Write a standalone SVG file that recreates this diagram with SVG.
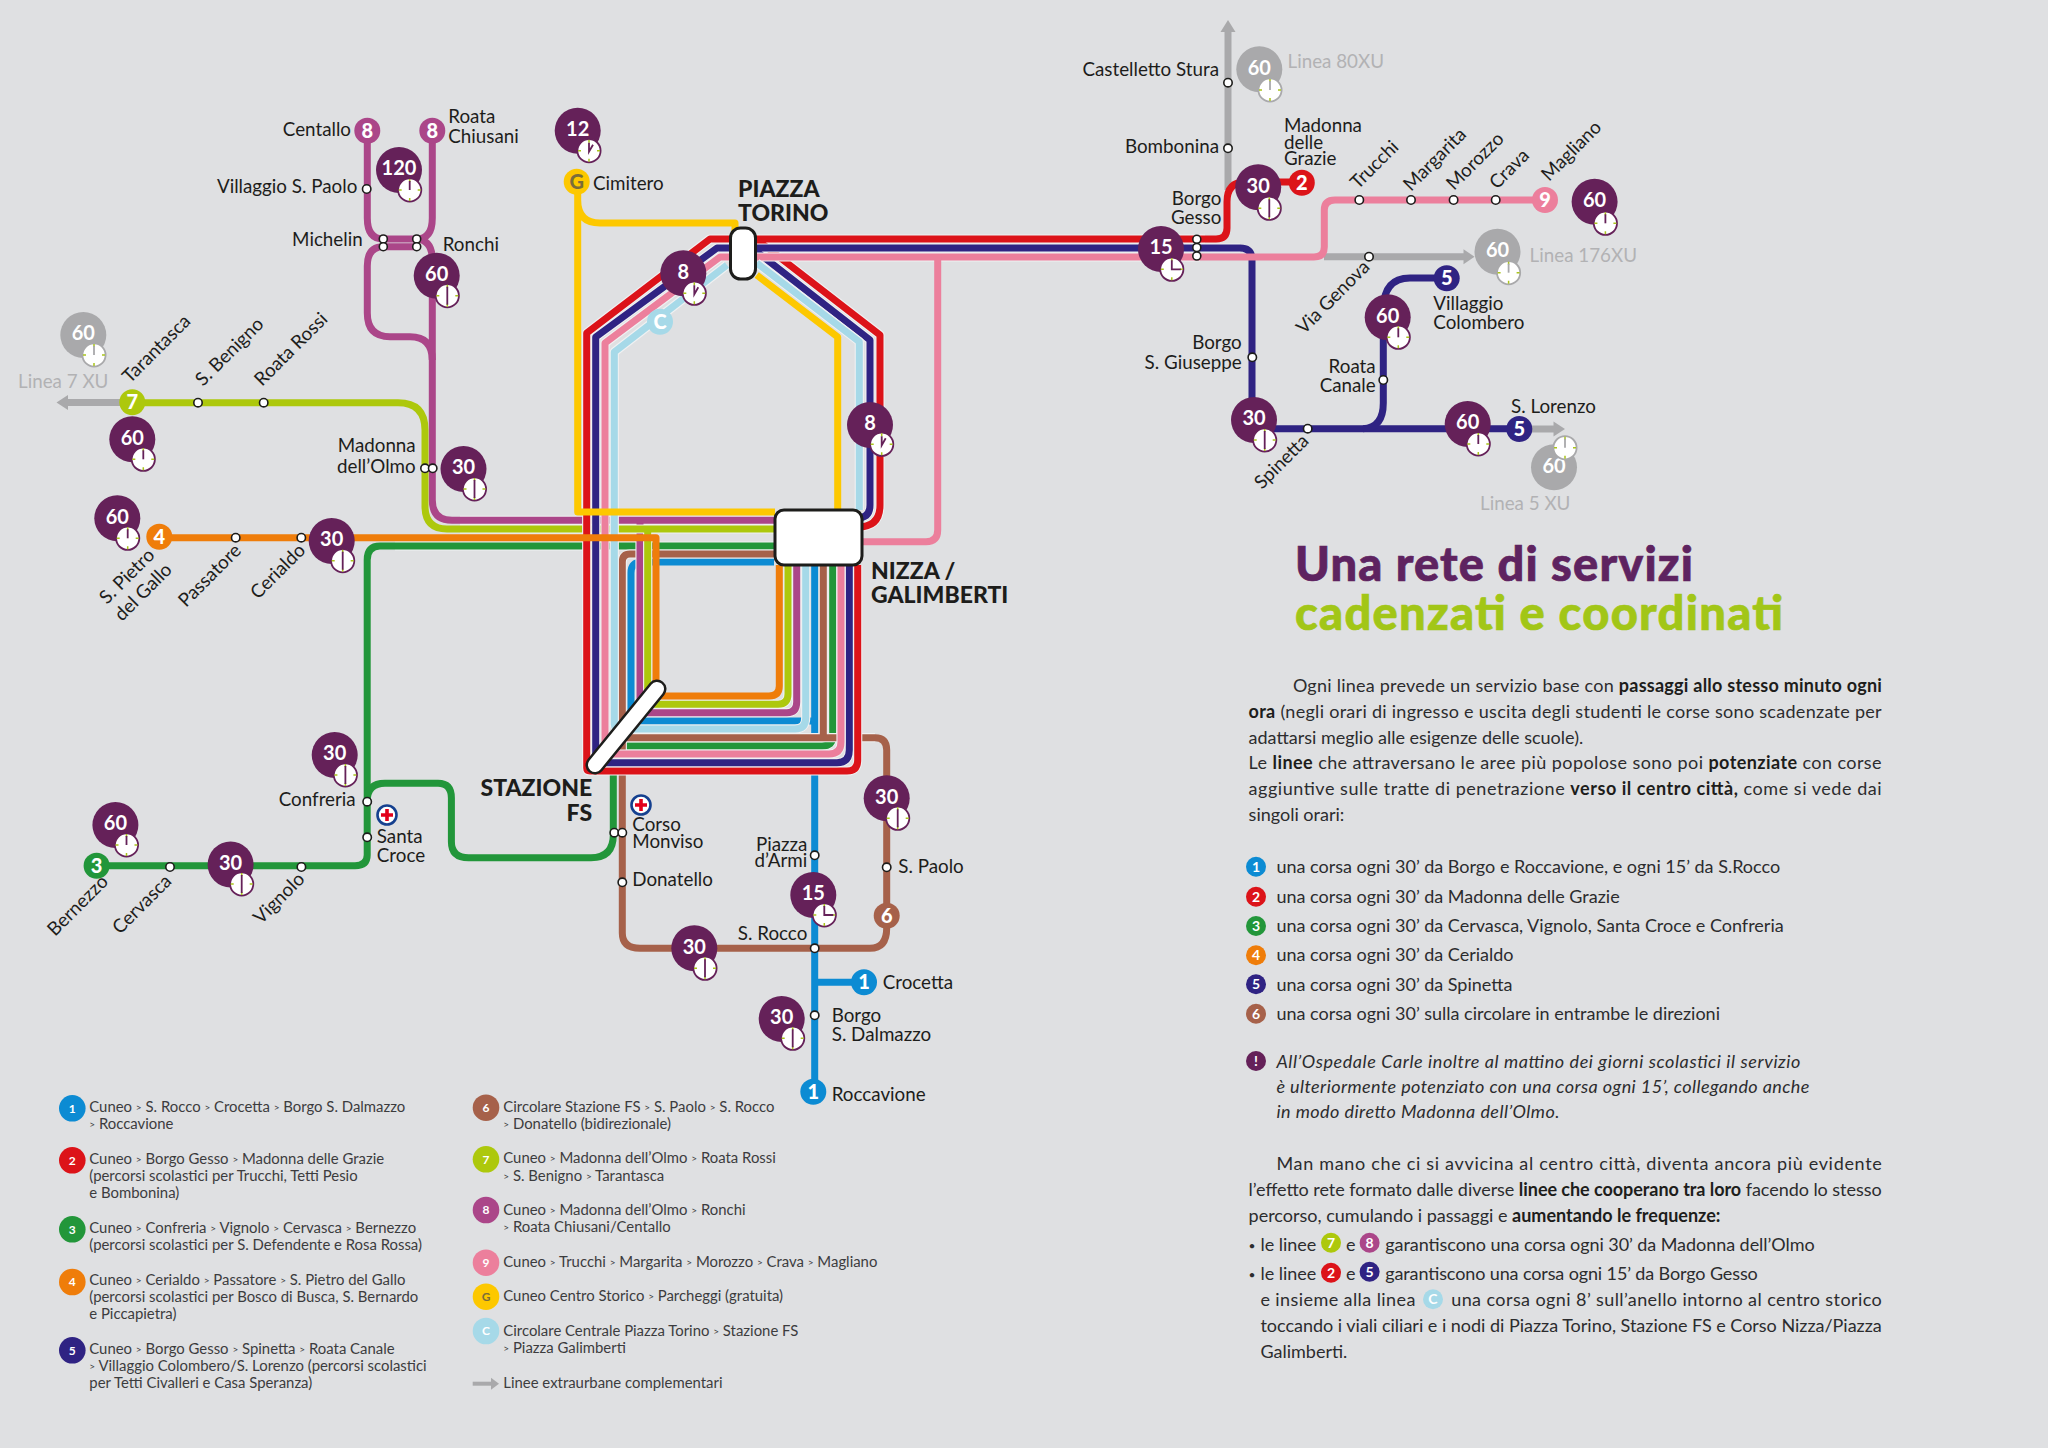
<svg xmlns="http://www.w3.org/2000/svg" width="2048" height="1448" viewBox="0 0 2048 1448">
<style>
text{font-family:"Lato","Liberation Sans",sans-serif}
.ln{fill:none;stroke-width:7;stroke-linejoin:round}
.cs{fill:none;stroke:#f0f1f2;stroke-width:9.2;stroke-linejoin:round}
.red{stroke:#dc1319}.nav{stroke:#2f2383}.pnk{stroke:#ec7f9c}.lbl{stroke:#a6d9e8}.yel{stroke:#fdc800}.lim{stroke:#adc80c}.org{stroke:#ef7d0a}.grn{stroke:#22963a}.brn{stroke:#a6614a}.blu{stroke:#0c8bd3}.mag{stroke:#ab4689}.gry{stroke:#a9a9ab}
.l{font-size:18.8px;fill:#1d1d1b}
.lg{font-size:18.8px;fill:#b2b2b4}
.e{text-anchor:end}
.st{font-size:23px;font-weight:900;fill:#1d1d1b}
.bg{fill:#652159}.bgg{fill:#a9a9ab}
.bn{font-size:20px;font-weight:700;fill:#fff;text-anchor:middle}
.nt{font-size:20px;font-weight:900;fill:#fff;text-anchor:middle}
.ck{color:#652159}.ckg{color:#a9a9ab}
.cf{fill:#fff;stroke:currentColor;stroke-width:1.8}
.tk{stroke:#a9c31c;stroke-width:1.5;fill:none}
.hd{stroke:currentColor;stroke-width:1.8;fill:none}
.s{fill:#fff;stroke:#1d1d1b;stroke-width:1.6}
.stn{fill:#fff;stroke:#1d1d1b;stroke-width:3}
.t{font-size:14.9px;fill:#3c3c3e}
.g{font-size:10px;baseline-shift:1.5px}
.tn{font-size:12px;font-weight:700;fill:#fff;text-anchor:middle}
.bd{font-size:18px;fill:#2c2c2e}
.bu{font-size:12px;fill:#2c2c2e}
.b{font-weight:700;fill:#1d1d1b}
.i{font-style:italic}
.dn{font-size:14px;font-weight:700;fill:#fff;text-anchor:middle}
.ti{font-size:47px;font-weight:900;stroke-width:.7}
</style>
<defs>
<g id="cb"><circle class="cf" r="11.6"/><path class="tk" d="M0,-11V-8M0,11V8M-11,0H-8M11,0H8"/></g>
<g id="c60"><use href="#cb"/><path class="hd" d="M0,0V-9"/></g>
<g id="c30"><use href="#cb"/><path class="hd" d="M0,-9V9"/></g>
<g id="c15"><use href="#cb"/><path class="hd" d="M0,-9V0H9"/></g>
<g id="c8"><use href="#cb"/><path class="hd" d="M0,-8V1L4,-6"/></g>
<g id="hs"><circle r="9.5" fill="#fff" stroke="#15408f" stroke-width="2.6"/><path d="M0,-6V6M-6,0H6" stroke="#e2001a" stroke-width="3.6"/></g>
</defs>
<rect width="2048" height="1448" fill="#dfe0e2"/>

<g id="connectors">
<path class="ln gry" d="M1228,190V28"/><path d="M1228,20l7.5,12h-15z" fill="#a9a9ab"/>
<path class="ln gry" d="M1324,256.7H1464"/><path d="M1474.5,256.7l-11,-7.5v15z" fill="#a9a9ab"/>
<path class="ln gry" d="M1519,429H1556"/><path d="M1565,429l-11.5,-7.5v15z" fill="#a9a9ab"/>
<path class="ln gry" d="M132,402.5H66"/><path d="M56.5,402.5l11.5,-7.5v15z" fill="#a9a9ab"/>

<path class="ln blu" d="M774,562H642Q631,562 631,573V721H814.7"/>
<path class="ln blu" d="M814.7,565V1091M814.7,982.3H864"/>
<path class="cs" d="M774,546H395M832.7,565V736Q832.7,746 822,746H620"/>
<path class="ln grn" d="M774,546H380Q367.2,546 367.2,560V855Q367.2,865.7 355,865.7H96.6"/>
<path class="ln grn" d="M832.7,565V736Q832.7,746 822,746H620Q613.3,746 613.3,752V835Q613.3,857.7 591,857.7H468.6Q451.4,857.7 451.4,841.7V798Q451.4,783.3 438,783.3H385Q367.2,783.3 367.2,801"/>
<path class="cs" d="M774,554H630Q622.3,554 622.3,562V770M823.3,565V737.7M622.3,737.7H875"/>
<path class="ln brn" d="M774,554H630Q622.3,554 622.3,562V933Q622.3,948.3 640,948.3H870Q886.7,948.3 886.7,928V750Q886.7,737.7 875,737.7H622.3M823.3,565V737.7"/>
<path class="cs" d="M774,520.3H460M640,520.3V712.7H787Q796.7,712.7 796.7,702V565"/>
<path class="ln mag" d="M432.3,130V218Q432.3,239 416.7,239H383.3Q367.3,239 367.3,218V130"/>
<path class="ln mag" d="M416.7,239Q432.3,240 432.3,260V500Q432.3,520.3 452,520.3H774"/>
<path class="ln mag" d="M416.7,246.7H383.3Q367.3,246.7 367.3,266V313Q367.3,336.7 390,336.7H410Q432.3,336.7 432.3,360"/>
<path class="ln mag" d="M640,520.3V712.7H787Q796.7,712.7 796.7,702V565"/>
<path class="cs" d="M774,529H460M647.7,529V704.3H778Q788,704.3 788,694V565"/>
<path class="ln lim" d="M132,402.7H398Q425,402.7 425,430V506Q425,529 447,529H774"/>
<path class="ln lim" d="M647.7,529V704.3H778Q788,704.3 788,694V565"/>
<path class="cs" d="M857.7,565V760Q857.7,771 847,771H590Q586.7,771 586.7,768V333L710,239H1205M756,239L880,335V505Q880,527 858,527"/>
<path class="ln red" d="M857.7,565V760Q857.7,771 847,771H590Q586.7,771 586.7,768V333L710,239H1216Q1227,239 1227,228V202Q1227,182 1245,182H1301"/>
<path class="ln red" d="M756,239L880,335V505Q880,527 858,527"/>
<path class="cs" d="M849.3,565V750Q849.3,762.7 837,762.7H602Q595.7,762.7 595.7,756V337L717,248H1240M756.7,251.7L870,340V505Q870,518 857,518"/>
<path class="ln nav" d="M849.3,565V750Q849.3,762.7 837,762.7H602Q595.7,762.7 595.7,756V337L717,248H1240Q1252,248 1252,260V415Q1252,428.7 1266,428.7H1519"/>
<path class="ln nav" d="M1363,428.7Q1383.3,428 1383.3,403V310Q1383.3,278 1410,278H1446"/>
<path class="ln nav" d="M756.7,251.7L870,340V505Q870,518 857,518"/>
<path class="cs" d="M841,565V742Q841,754 829,754H612Q605,754 605,748V343L720,257H1200"/>
<path class="ln pnk" d="M841,565V742Q841,754 829,754H612Q605,754 605,748V343L720,257H1314Q1324.3,257 1324.3,247V210Q1324.3,200 1335,200H1545"/>
<path class="ln pnk" d="M937.7,257V530Q937.7,541.7 926,541.7H860"/>
<path class="cs" d="M805.7,565V718Q805.7,729 795,729H620Q614.3,729 614.3,724V352L727,265M756.7,263L859.3,341.7V510"/>
<path class="ln lbl" d="M805.7,565V718Q805.7,729 795,729H620Q614.3,729 614.3,724V352L727,265"/>
<path class="ln lbl" d="M756.7,263L859.3,341.7V510"/>
<path class="ln org" d="M159,537.7H656V696H769Q779.3,696 779.3,686V565"/>
<path class="ln yel" d="M577.7,183V512H775M577.7,200Q577.7,223 600,223H735V232"/>
<path class="ln yel" d="M756.7,275L837.7,337V510"/>
</g>

<g id="piazza-torino"><rect class="stn" x="730.5" y="228" width="25" height="51" rx="10"/><text class="st" x="738" y="196.7">PIAZZA</text><text class="st" x="738" y="221">TORINO</text></g>
<g id="nizza-galimberti"><rect class="stn" x="775" y="510" width="87" height="55" rx="9"/><text class="st" x="871" y="578.7">NIZZA /</text><text class="st" x="871" y="603.3">GALIMBERTI</text></g>
<g id="stazione-fs"><line x1="595" y1="765" x2="657" y2="689" stroke="#1d1d1b" stroke-width="19" stroke-linecap="round"/><line x1="595" y1="765" x2="657" y2="689" stroke="#fff" stroke-width="14" stroke-linecap="round"/><text class="st e" x="592.2" y="796">STAZIONE</text><text class="st e" x="592.2" y="820.7">FS</text></g>

<g id="n-centallo"><circle cx="367.3" cy="130.7" r="13" fill="#ab4689"/><text class="nt" x="367.3" y="137.7">8</text><text class="l e" x="351" y="135.7">Centallo</text></g>
<g id="n-roata-chiusani"><circle cx="432.3" cy="130.7" r="13" fill="#ab4689"/><text class="nt" x="432.3" y="137.7">8</text><text class="l" x="448.3" y="123.3">Roata</text><text class="l" x="448.3" y="143.3">Chiusani</text></g>
<g id="n-villaggio-s-paolo"><circle class="s" cx="366.7" cy="189" r="4.2"/><text class="l e" x="357.3" y="192.7">Villaggio S. Paolo</text></g>
<g id="n-michelin"><circle class="s" cx="383.3" cy="239" r="4"/><circle class="s" cx="383.3" cy="246.7" r="4"/><text class="l e" x="362.7" y="245.7">Michelin</text></g>
<g id="n-ronchi"><circle class="s" cx="416.7" cy="239" r="4"/><circle class="s" cx="416.7" cy="246.7" r="4"/><text class="l" x="442.7" y="250.7">Ronchi</text></g>
<g id="n-cimitero"><circle cx="576.7" cy="181.7" r="13" fill="#fdc800"/><text class="nt" x="576.7" y="188.7" style="fill:#7a6d3a">G</text><text class="l" x="593" y="190">Cimitero</text></g>
<g id="n-c"><circle cx="660" cy="321.7" r="13" fill="#a6d9e8"/><text class="nt" x="660" y="328.7">C</text></g>

<g id="n-tarantasca"><circle cx="132.3" cy="402.3" r="13" fill="#adc80c"/><text class="nt" x="132.3" y="409.3">7</text><text class="l" transform="translate(130,384) rotate(-45)">Tarantasca</text></g>
<g id="n-s-benigno"><circle class="s" cx="198" cy="402.7" r="4.2"/><text class="l" transform="translate(203,387) rotate(-45)">S. Benigno</text></g>
<g id="n-roata-rossi"><circle class="s" cx="263.7" cy="402.7" r="4.2"/><text class="l" transform="translate(262,387) rotate(-45)">Roata Rossi</text></g>
<g id="n-madonna-olmo"><circle class="s" cx="425" cy="468.3" r="4.2"/><circle class="s" cx="432.7" cy="468.3" r="4.2"/><text class="l e" x="415.7" y="452.3">Madonna</text><text class="l e" x="415.7" y="472.7">dell’Olmo</text></g>
<g id="n-s-pietro"><circle cx="159.3" cy="536.7" r="13" fill="#ef7d0a"/><text class="nt" x="159.3" y="543.7">4</text><text class="l" transform="translate(107,605) rotate(-45)">S. Pietro</text><text class="l" transform="translate(122,622) rotate(-45)">del Gallo</text></g>
<g id="n-passatore"><circle class="s" cx="235.7" cy="537.7" r="4.2"/><text class="l" transform="translate(186,608) rotate(-45)">Passatore</text></g>
<g id="n-cerialdo"><circle class="s" cx="301.3" cy="537.7" r="4.2"/><text class="l" transform="translate(258,600) rotate(-45)">Cerialdo</text></g>
<g id="n-bernezzo"><circle cx="96.6" cy="865.7" r="13" fill="#22963a"/><text class="nt" x="96.6" y="872.7">3</text><text class="l" transform="translate(55,937) rotate(-45)">Bernezzo</text></g>
<g id="n-cervasca"><circle class="s" cx="170" cy="867" r="4.2"/><text class="l" transform="translate(120,935) rotate(-45)">Cervasca</text></g>
<g id="n-vignolo"><circle class="s" cx="301.4" cy="867" r="4.2"/><text class="l" transform="translate(261,925) rotate(-45)">Vignolo</text></g>
<g id="n-confreria"><circle class="s" cx="367.2" cy="801.7" r="4.2"/><text class="l e" x="355.7" y="806">Confreria</text></g>
<g id="n-santa-croce"><circle class="s" cx="367.2" cy="837.3" r="4.2"/><use href="#hs" transform="translate(387,815)"/><text class="l" x="376.8" y="843.3">Santa</text><text class="l" x="376.8" y="862.3">Croce</text></g>
<g id="n-corso-monviso"><circle class="s" cx="614.3" cy="832.7" r="4.2"/><circle class="s" cx="622.3" cy="832.7" r="4.2"/><use href="#hs" transform="translate(641,805)"/><text class="l" x="632.3" y="831">Corso</text><text class="l" x="632.3" y="847.7">Monviso</text></g>
<g id="n-donatello"><circle class="s" cx="622.3" cy="882.3" r="4.2"/><text class="l" x="632.3" y="886">Donatello</text></g>
<g id="n-piazza-armi"><circle class="s" cx="814.7" cy="855.3" r="4.2"/><text class="l e" x="807.3" y="850.7">Piazza</text><text class="l e" x="807.3" y="867.3">d’Armi</text></g>
<g id="n-s-rocco"><circle class="s" cx="814.7" cy="948.3" r="4.2"/><text class="l e" x="807.3" y="940">S. Rocco</text></g>
<g id="n-s-paolo"><circle class="s" cx="886.7" cy="867.3" r="4.2"/><text class="l" x="898.3" y="873.3">S. Paolo</text></g>
<g id="n-6"><circle cx="886.7" cy="915.7" r="13" fill="#a6614a"/><text class="nt" x="886.7" y="922.7">6</text></g>
<g id="n-crocetta"><circle cx="864" cy="982.3" r="13" fill="#0c8bd3"/><text class="nt" x="864" y="989.3">1</text><text class="l" x="882.7" y="988.5">Crocetta</text></g>
<g id="n-borgo-dalmazzo"><circle class="s" cx="814.7" cy="1015.3" r="4.2"/><text class="l" x="831.7" y="1021.5">Borgo</text><text class="l" x="831.7" y="1040.8">S. Dalmazzo</text></g>
<g id="n-roccavione"><circle cx="813.3" cy="1091.7" r="13" fill="#0c8bd3"/><text class="nt" x="813.3" y="1098.7">1</text><text class="l" x="831.7" y="1100.5">Roccavione</text></g>

<g id="n-castelletto"><circle class="s" cx="1228" cy="82.7" r="4.2"/><text class="l e" x="1219" y="75.7">Castelletto Stura</text></g>
<g id="n-bombonina"><circle class="s" cx="1228" cy="148.3" r="4.2"/><text class="l e" x="1219" y="153">Bombonina</text></g>
<g id="n-grazie"><circle cx="1301.8" cy="182.7" r="13" fill="#dc1319"/><text class="nt" x="1301.8" y="189.7">2</text><text class="l" x="1284" y="132">Madonna</text><text class="l" x="1284" y="148.5">delle</text><text class="l" x="1284" y="165">Grazie</text></g>
<g id="n-borgo-gesso"><circle class="s" cx="1196.8" cy="239.3" r="4"/><circle class="s" cx="1196.8" cy="247.5" r="4"/><circle class="s" cx="1196.8" cy="256" r="4"/><text class="l e" x="1221.4" y="205">Borgo</text><text class="l e" x="1221.4" y="224">Gesso</text></g>
<g id="n-trucchi"><circle class="s" cx="1359.3" cy="200" r="4.2"/><text class="l" transform="translate(1358,190) rotate(-45)">Trucchi</text></g>
<g id="n-margarita"><circle class="s" cx="1411" cy="200" r="4.2"/><text class="l" transform="translate(1411,192) rotate(-45)">Margarita</text></g>
<g id="n-morozzo"><circle class="s" cx="1453.6" cy="200" r="4.2"/><text class="l" transform="translate(1454,191) rotate(-45)">Morozzo</text></g>
<g id="n-crava"><circle class="s" cx="1495.7" cy="200" r="4.2"/><text class="l" transform="translate(1497,190) rotate(-45)">Crava</text></g>
<g id="n-magliano"><circle cx="1545" cy="200" r="13" fill="#ec7f9c"/><text class="nt" x="1545" y="207">9</text><text class="l" transform="translate(1549,182) rotate(-45)">Magliano</text></g>
<g id="n-via-genova"><circle class="s" cx="1369" cy="256.7" r="4.2"/><text class="l" transform="translate(1304,335) rotate(-45)">Via Genova</text></g>
<g id="n-colombero"><circle cx="1446.7" cy="278.3" r="13" fill="#2f2383"/><text class="nt" x="1446.7" y="285.3">5</text><text class="l" x="1433.3" y="310">Villaggio</text><text class="l" x="1433.3" y="329">Colombero</text></g>
<g id="n-borgo-giuseppe"><circle class="s" cx="1252.3" cy="357.3" r="4.2"/><text class="l e" x="1241.7" y="349.3">Borgo</text><text class="l e" x="1241.7" y="368.7">S. Giuseppe</text></g>
<g id="n-roata-canale"><circle class="s" cx="1383.3" cy="380" r="4.2"/><text class="l e" x="1375.7" y="372.7">Roata</text><text class="l e" x="1375.7" y="391.7">Canale</text></g>
<g id="n-spinetta"><circle class="s" cx="1307.7" cy="428.7" r="4.2"/><text class="l" transform="translate(1262,490) rotate(-45)">Spinetta</text></g>
<g id="n-s-lorenzo"><circle cx="1519.3" cy="429" r="13" fill="#2f2383"/><text class="nt" x="1519.3" y="436">5</text><text class="l" x="1511" y="413.3">S. Lorenzo</text></g>

<g id="badges">
<g id="b-120"><circle class="bg" cx="399" cy="170" r="23"/><text class="bn" x="399" y="175">120</text><use class="ck" href="#c60" transform="translate(409.7,190)"/></g>
<g id="b-ronchi"><circle class="bg" cx="436.7" cy="275.7" r="23"/><text class="bn" x="436.7" y="281">60</text><use class="ck" href="#c30" transform="translate(447.3,295.7)"/></g>
<g id="b-12"><circle class="bg" cx="577.7" cy="130.7" r="23"/><text class="bn" x="577.7" y="136">12</text><use class="ck" href="#c8" transform="translate(589,150.7)"/></g>
<g id="b-8a"><circle class="bg" cx="683.3" cy="273.3" r="23"/><text class="bn" x="683.3" y="278.5">8</text><use class="ck" href="#c8" transform="translate(694.3,293.3)"/></g>
<g id="b-8b"><circle class="bg" cx="870" cy="425" r="23"/><text class="bn" x="870" y="430">8</text><use class="ck" href="#c8" transform="translate(881.7,444.3)"/></g>
<g id="b-olmo"><circle class="bg" cx="463.5" cy="469" r="23"/><text class="bn" x="463.5" y="474">30</text><use class="ck" href="#c30" transform="translate(474.5,489)"/></g>
<g id="b-l7g"><circle class="bgg" cx="83.3" cy="335" r="23"/><text class="bn" x="83.3" y="340">60</text><use class="ckg" href="#c60" transform="translate(94,355)"/><text class="lg" x="18" y="387.7">Linea 7 XU</text></g>
<g id="b-l7"><circle class="bg" cx="132.3" cy="439.3" r="23"/><text class="bn" x="132.3" y="444.5">60</text><use class="ck" href="#c60" transform="translate(143.3,459.3)"/></g>
<g id="b-l4"><circle class="bg" cx="117.3" cy="518.3" r="23"/><text class="bn" x="117.3" y="523.5">60</text><use class="ck" href="#c60" transform="translate(127.7,538.3)"/></g>
<g id="b-cerialdo"><circle class="bg" cx="331.7" cy="541" r="23"/><text class="bn" x="331.7" y="546">30</text><use class="ck" href="#c30" transform="translate(342.7,560.7)"/></g>
<g id="b-confreria"><circle class="bg" cx="334.7" cy="755" r="23"/><text class="bn" x="334.7" y="760">30</text><use class="ck" href="#c30" transform="translate(345.4,775)"/></g>
<g id="b-l3"><circle class="bg" cx="115.4" cy="825" r="23"/><text class="bn" x="115.4" y="830">60</text><use class="ck" href="#c60" transform="translate(126.5,845)"/></g>
<g id="b-vignolo"><circle class="bg" cx="230.6" cy="864.5" r="23"/><text class="bn" x="230.6" y="869.5">30</text><use class="ck" href="#c30" transform="translate(241.7,884)"/></g>
<g id="b-s-paolo"><circle class="bg" cx="886.7" cy="798.3" r="23"/><text class="bn" x="886.7" y="803.5">30</text><use class="ck" href="#c30" transform="translate(897.7,818.3)"/></g>
<g id="b-15s"><circle class="bg" cx="813.3" cy="895" r="23"/><text class="bn" x="813.3" y="900">15</text><use class="ck" href="#c15" transform="translate(824.3,915)"/></g>
<g id="b-brown"><circle class="bg" cx="694.3" cy="948.3" r="23"/><text class="bn" x="694.3" y="953.5">30</text><use class="ck" href="#c30" transform="translate(705,968.3)"/></g>
<g id="b-dalmazzo"><circle class="bg" cx="781.7" cy="1019" r="23"/><text class="bn" x="781.7" y="1024">30</text><use class="ck" href="#c30" transform="translate(792.7,1038.3)"/></g>
<g id="b-80xu"><circle class="bgg" cx="1259.3" cy="69.3" r="23"/><text class="bn" x="1259.3" y="74.5">60</text><use class="ckg" href="#c60" transform="translate(1270,90)"/><text class="lg" x="1287.5" y="68">Linea 80XU</text></g>
<g id="b-grazie"><circle class="bg" cx="1258.2" cy="187.3" r="23"/><text class="bn" x="1258.2" y="192.5">30</text><use class="ck" href="#c30" transform="translate(1269.3,208.3)"/></g>
<g id="b-15g"><circle class="bg" cx="1161" cy="249" r="23"/><text class="bn" x="1161" y="254">15</text><use class="ck" href="#c15" transform="translate(1171.8,269.3)"/></g>
<g id="b-magliano"><circle class="bg" cx="1594.6" cy="201.7" r="23"/><text class="bn" x="1594.6" y="207">60</text><use class="ck" href="#c60" transform="translate(1605.4,223.3)"/></g>
<g id="b-176"><circle class="bgg" cx="1497.5" cy="251.7" r="23"/><text class="bn" x="1497.5" y="257">60</text><use class="ckg" href="#c60" transform="translate(1508.6,272.7)"/><text class="lg" x="1529.6" y="261.7">Linea 176XU</text></g>
<g id="b-colombero"><circle class="bg" cx="1387.7" cy="317.3" r="23"/><text class="bn" x="1387.7" y="322.5">60</text><use class="ck" href="#c60" transform="translate(1398.3,337.3)"/></g>
<g id="b-spinetta"><circle class="bg" cx="1254" cy="420" r="23"/><text class="bn" x="1254" y="425">30</text><use class="ck" href="#c30" transform="translate(1264.7,440)"/></g>
<g id="b-lorenzo"><circle class="bg" cx="1467.7" cy="424" r="23"/><text class="bn" x="1467.7" y="429">60</text><use class="ck" href="#c60" transform="translate(1478.3,444)"/></g>
<g id="b-l5"><circle class="bgg" cx="1554" cy="467.3" r="23"/><text class="bn" x="1554" y="472.5">60</text><use class="ckg" href="#c60" transform="translate(1565,447.7)"/><text class="lg" x="1480" y="510">Linea 5 XU</text></g>
</g>

<g id="legend" transform="translate(0,1)">
<circle cx="72.3" cy="1107.3" r="13.3" fill="#0c8bd3"/><text class="tn" x="72.3" y="1111.5">1</text>
<text class="t" x="89.3" y="1110.7">Cuneo <tspan class="g">&gt;</tspan> S. Rocco <tspan class="g">&gt;</tspan> Crocetta <tspan class="g">&gt;</tspan> Borgo S. Dalmazzo</text><text class="t" x="89.3" y="1128"><tspan class="g">&gt;</tspan> Roccavione</text>
<circle cx="72.3" cy="1159.3" r="13.3" fill="#dc1319"/><text class="tn" x="72.3" y="1163.5">2</text>
<text class="t" x="89.3" y="1162.7">Cuneo <tspan class="g">&gt;</tspan> Borgo Gesso <tspan class="g">&gt;</tspan> Madonna delle Grazie</text><text class="t" x="89.3" y="1180">(percorsi scolastici per Trucchi, Tetti Pesio</text><text class="t" x="89.3" y="1197.3">e Bombonina)</text>
<circle cx="72.3" cy="1228.3" r="13.3" fill="#22963a"/><text class="tn" x="72.3" y="1232.5">3</text>
<text class="t" x="89.3" y="1231.7">Cuneo <tspan class="g">&gt;</tspan> Confreria <tspan class="g">&gt;</tspan> Vignolo <tspan class="g">&gt;</tspan> Cervasca <tspan class="g">&gt;</tspan> Bernezzo</text><text class="t" x="89.3" y="1249">(percorsi scolastici per S. Defendente e Rosa Rossa)</text>
<circle cx="72.3" cy="1281" r="13.3" fill="#ef7d0a"/><text class="tn" x="72.3" y="1285.2">4</text>
<text class="t" x="89.3" y="1283.7">Cuneo <tspan class="g">&gt;</tspan> Cerialdo <tspan class="g">&gt;</tspan> Passatore <tspan class="g">&gt;</tspan> S. Pietro del Gallo</text><text class="t" x="89.3" y="1301">(percorsi scolastici per Bosco di Busca, S. Bernardo</text><text class="t" x="89.3" y="1318">e Piccapietra)</text>
<circle cx="72.3" cy="1349.3" r="13.3" fill="#2f2383"/><text class="tn" x="72.3" y="1353.5">5</text>
<text class="t" x="89.3" y="1352.7">Cuneo <tspan class="g">&gt;</tspan> Borgo Gesso <tspan class="g">&gt;</tspan> Spinetta <tspan class="g">&gt;</tspan> Roata Canale</text><text class="t" x="89.3" y="1370"><tspan class="g">&gt;</tspan> Villaggio Colombero/S. Lorenzo (percorsi scolastici</text><text class="t" x="89.3" y="1387.3">per Tetti Civalleri e Casa Speranza)</text>
<circle cx="486" cy="1106.7" r="13.3" fill="#a6614a"/><text class="tn" x="486" y="1111">6</text>
<text class="t" x="503.3" y="1110.7">Circolare Stazione FS <tspan class="g">&gt;</tspan> S. Paolo <tspan class="g">&gt;</tspan> S. Rocco</text><text class="t" x="503.3" y="1128"><tspan class="g">&gt;</tspan> Donatello (bidirezionale)</text>
<circle cx="486" cy="1158.3" r="13.3" fill="#adc80c"/><text class="tn" x="486" y="1162.5">7</text>
<text class="t" x="503.3" y="1162.3">Cuneo <tspan class="g">&gt;</tspan> Madonna dell’Olmo <tspan class="g">&gt;</tspan> Roata Rossi</text><text class="t" x="503.3" y="1179.7"><tspan class="g">&gt;</tspan> S. Benigno <tspan class="g">&gt;</tspan> Tarantasca</text>
<circle cx="486" cy="1209" r="13.3" fill="#ab4689"/><text class="tn" x="486" y="1213.2">8</text>
<text class="t" x="503.3" y="1214">Cuneo <tspan class="g">&gt;</tspan> Madonna dell’Olmo <tspan class="g">&gt;</tspan> Ronchi</text><text class="t" x="503.3" y="1231.3"><tspan class="g">&gt;</tspan> Roata Chiusani/Centallo</text>
<circle cx="486" cy="1261.7" r="13.3" fill="#ec7f9c"/><text class="tn" x="486" y="1266">9</text>
<text class="t" x="503.3" y="1266">Cuneo <tspan class="g">&gt;</tspan> Trucchi <tspan class="g">&gt;</tspan> Margarita <tspan class="g">&gt;</tspan> Morozzo <tspan class="g">&gt;</tspan> Crava <tspan class="g">&gt;</tspan> Magliano</text>
<circle cx="486" cy="1295.7" r="13.3" fill="#fdc800"/><text class="tn" x="486" y="1300" style="fill:#7a6d3a">G</text>
<text class="t" x="503.3" y="1300.3">Cuneo Centro Storico <tspan class="g">&gt;</tspan> Parcheggi (gratuita)</text>
<circle cx="486" cy="1330" r="13.3" fill="#a6d9e8"/><text class="tn" x="486" y="1334.2">C</text>
<text class="t" x="503.3" y="1335">Circolare Centrale Piazza Torino <tspan class="g">&gt;</tspan> Stazione FS</text><text class="t" x="503.3" y="1352.3"><tspan class="g">&gt;</tspan> Piazza Galimberti</text>
<path d="M472.7,1382.7H492" stroke="#a9a9ab" stroke-width="4"/><path d="M499,1382.7l-8,-6v12z" fill="#a9a9ab"/>
<text class="t" x="503.3" y="1386.7">Linee extraurbane complementari</text>
</g>

<g id="article" transform="translate(0,1)">
<text class="ti" x="1295" y="580" fill="#5e2360" stroke="#5e2360" textLength="398">Una rete di servizi</text>
<text class="ti" x="1295" y="629" fill="#a2c617" stroke="#a2c617" textLength="488">cadenzati e coordinati</text>
<text class="bd" x="1292.9" y="691" textLength="589">Ogni linea prevede un servizio base con <tspan class="b">passaggi allo stesso minuto ogni</tspan></text>
<text class="bd" x="1248.6" y="716.7" textLength="633"><tspan class="b">ora</tspan> (negli orari di ingresso e uscita degli studenti le corse sono scadenzate per</text>
<text class="bd" x="1248.6" y="742.7">adattarsi meglio alle esigenze delle scuole).</text>
<text class="bd" x="1248.6" y="768.3" textLength="633">Le <tspan class="b">linee</tspan> che attraversano le aree più popolose sono poi <tspan class="b">potenziate</tspan> con corse</text>
<text class="bd" x="1248.6" y="794.3" textLength="633">aggiuntive sulle tratte di penetrazione <tspan class="b">verso il centro città,</tspan> come si vede dai</text>
<text class="bd" x="1248.6" y="820">singoli orari:</text>
<circle cx="1256" cy="865.7" r="10" fill="#0c8bd3"/><text class="dn" x="1256" y="870.7">1</text><text class="bd" x="1276.4" y="871.7">una corsa ogni 30’ da Borgo e Roccavione, e ogni 15’ da S.Rocco</text>
<circle cx="1256" cy="895.7" r="10" fill="#dc1319"/><text class="dn" x="1256" y="900.7">2</text><text class="bd" x="1276.4" y="901.7">una corsa ogni 30’ da Madonna delle Grazie</text>
<circle cx="1256" cy="925" r="10" fill="#22963a"/><text class="dn" x="1256" y="930">3</text><text class="bd" x="1276.4" y="931">una corsa ogni 30’ da Cervasca, Vignolo, Santa Croce e Confreria</text>
<circle cx="1256" cy="954.3" r="10" fill="#ef7d0a"/><text class="dn" x="1256" y="959.3">4</text><text class="bd" x="1276.4" y="960.3">una corsa ogni 30’ da Cerialdo</text>
<circle cx="1256" cy="983.3" r="10" fill="#2f2383"/><text class="dn" x="1256" y="988.3">5</text><text class="bd" x="1276.4" y="989.7">una corsa ogni 30’ da Spinetta</text>
<circle cx="1256" cy="1012.7" r="10" fill="#a6614a"/><text class="dn" x="1256" y="1017.7">6</text><text class="bd" x="1276.4" y="1019">una corsa ogni 30’ sulla circolare in entrambe le direzioni</text>
<circle cx="1256" cy="1060" r="10" fill="#652159"/><text class="dn" x="1256" y="1065">!</text>
<text class="bd i" x="1276.4" y="1067.3" textLength="524">All’Ospedale Carle inoltre al mattino dei giorni scolastici il servizio</text>
<text class="bd i" x="1276.4" y="1091.7" textLength="533">è ulteriormente potenziato con una corsa ogni 15’, collegando anche</text>
<text class="bd i" x="1276.4" y="1117.3" textLength="283">in modo diretto Madonna dell’Olmo.</text>
<text class="bd" x="1276.4" y="1169.3" textLength="605.4">Man mano che ci si avvicina al centro città, diventa ancora più evidente</text>
<text class="bd" x="1248.6" y="1195" textLength="633">l’effetto rete formato dalle diverse <tspan class="b">linee che cooperano tra loro</tspan> facendo lo stesso</text>
<text class="bd" x="1248.6" y="1221">percorso, cumulando i passaggi e <tspan class="b">aumentando le frequenze:</tspan></text>
<text class="bu" x="1248.6" y="1249">•</text><text class="bd" x="1260.4" y="1250">le linee</text>
<circle cx="1331" cy="1241.7" r="10" fill="#adc80c"/><text class="dn" x="1331" y="1246.7">7</text><text class="bd" x="1346" y="1250">e</text>
<circle cx="1369.6" cy="1241.7" r="10" fill="#ab4689"/><text class="dn" x="1369.6" y="1246.7">8</text><text class="bd" x="1385.2" y="1250" textLength="429.4">garantiscono una corsa ogni 30’ da Madonna dell’Olmo</text>
<text class="bu" x="1248.6" y="1278.3">•</text><text class="bd" x="1260.4" y="1279.3">le linee</text>
<circle cx="1331" cy="1271.7" r="10" fill="#dc1319"/><text class="dn" x="1331" y="1276.7">2</text><text class="bd" x="1346" y="1279.3">e</text>
<circle cx="1369.6" cy="1270.7" r="10" fill="#2f2383"/><text class="dn" x="1369.6" y="1275.7">5</text><text class="bd" x="1385.2" y="1279.3" textLength="372.6">garantiscono una corsa ogni 15’ da Borgo Gesso</text>
<text class="bd" x="1260.4" y="1305" textLength="155">e insieme alla linea</text>
<circle cx="1433" cy="1298.3" r="10" fill="#a6d9e8"/><text class="dn" x="1433" y="1303.3">C</text>
<text class="bd" x="1451.2" y="1305" textLength="430.6">una corsa ogni 8’ sull’anello intorno al centro storico</text>
<text class="bd" x="1260.4" y="1331" textLength="621.4">toccando i viali ciliari e i nodi di Piazza Torino, Stazione FS e Corso Nizza/Piazza</text>
<text class="bd" x="1260.4" y="1356.7">Galimberti.</text>
</g>
</svg>
